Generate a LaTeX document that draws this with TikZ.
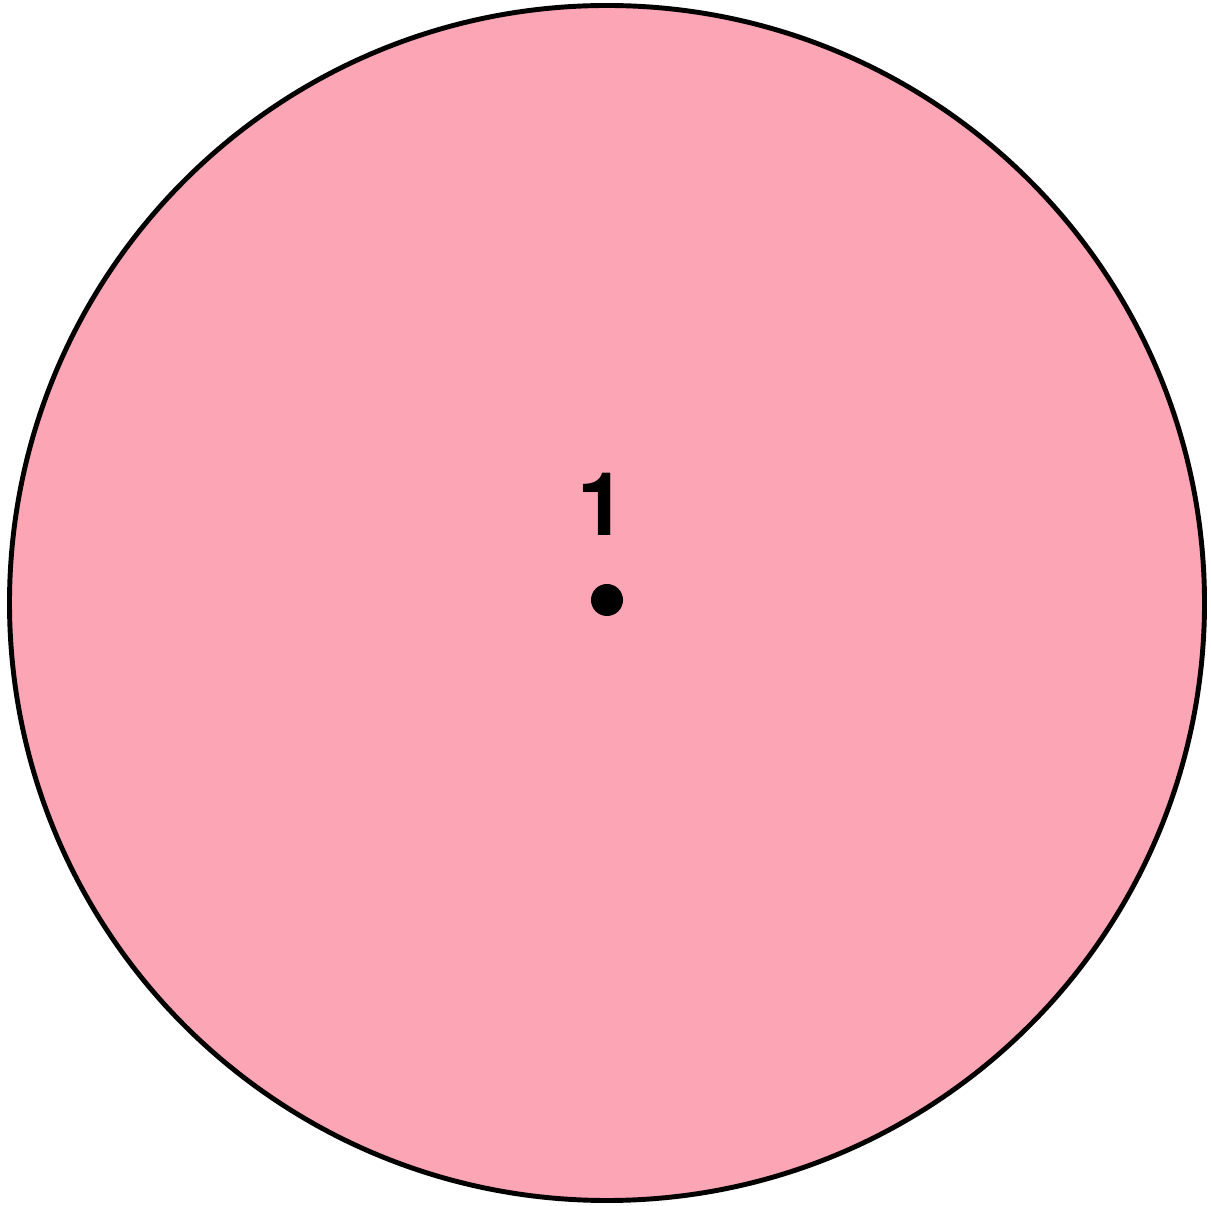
\documentclass[tikz,border=0pt]{standalone}
\usepackage{fontspec}
\setmainfont{TeX Gyre Heros}
\usetikzlibrary{positioning}

\begin{document}
\begin{tikzpicture}[every node/.style={font=\fontsize{50}{60}\selectfont\bfseries}]
\definecolor{PINKFILL}{HTML}{FCA5B5}
\useasboundingbox (0,0) rectangle (24.22,24.10);
\coordinate (C) at (12.14,12.04);
\draw[fill=PINKFILL,line width=2.8pt] (C) circle (11.95);
\fill[black] (C) ++(0,0.06) circle (0.32) coordinate (P);
\node[anchor=base,inner sep=0pt] (lbl) at (12.03,13.38) {1};
\end{tikzpicture}
\end{document}
